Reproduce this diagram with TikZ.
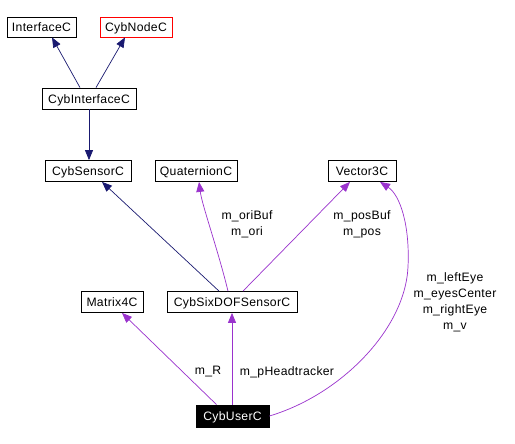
\documentclass[tikz,border=0pt]{standalone}
\usepackage{fontspec}
\setmainfont{Liberation Sans}[LetterSpace=2.5]
\usetikzlibrary{arrows.meta}
\definecolor{navyedge}{HTML}{191970}
\definecolor{purpedge}{HTML}{9A32CD}
\begin{document}
\begin{tikzpicture}[x=1pt,y=-1pt,
  cls/.style={draw=black,line width=0.8pt,rectangle,inner sep=0pt,minimum height=21pt,text height=11pt,text depth=2pt,font=\fontsize{12.2}{16}\selectfont,fill=white},
  inh/.style={draw=navyedge,line width=0.7pt,-{Triangle[length=10pt,width=8pt]},color=navyedge},
  use/.style={draw=purpedge,line width=0.7pt,-{Triangle[length=10pt,width=8pt]},color=purpedge},
  lbl/.style={font=\fontsize{12.2}{16}\selectfont,align=center,inner sep=0pt}]
\useasboundingbox (0,0) rectangle (515,444);
\fill[white] (0,0) rectangle (515,444);
\node[cls,minimum width=69pt,minimum height=20pt] (iface) at (41.5,27) {InterfaceC};
\node[cls,minimum width=72pt,minimum height=20pt,draw=red] (cybnode) at (136,27) {CybNodeC};
\node[cls,minimum width=94pt] (cybint) at (89,98.5) {CybInterfaceC};
\node[cls,minimum width=86pt] (sensor) at (88,171) {CybSensorC};
\node[cls,minimum width=82pt] (quat) at (196,171) {QuaternionC};
\node[cls,minimum width=68pt] (vec) at (362,171) {Vector3C};
\node[cls,minimum width=62pt] (matrix) at (112,302) {Matrix4C};
\node[cls,minimum width=130pt] (six) at (232,302) {CybSixDOFSensorC};
\node[cls,minimum width=73pt,minimum height=22pt,fill=black,text=white] (user) at (232.5,416) {CybUserC};

\draw[inh] ([xshift=-9pt]cybint.north) -- ([xshift=10.5pt]iface.south);
\draw[inh] ([xshift=7pt]cybint.north) -- ([xshift=-11pt]cybnode.south);
\draw[inh] (cybint.south) -- (cybint.south |- sensor.north);
\draw[inh] ([xshift=-13pt]six.north) -- ([xshift=14pt]sensor.south);

\draw[use] ([xshift=-4pt]six.north) .. controls (218,250) and (202,205) .. ([xshift=3pt]quat.south);
\draw[use] ([xshift=11pt]six.north) -- ([xshift=-12pt]vec.south);
\draw[use] (user.east) .. controls (340,395) and (405,330) .. (408,267)
  .. controls (410,225) and (400,195) .. ([xshift=18pt]vec.south);
\draw[use] ([xshift=-16pt]user.north) -- ([xshift=10pt]matrix.south);
\draw[use] (user.north -| six.south) -- (six.south);

\node[lbl] (l1) at (247,224) {m\_oriBuf\\m\_ori};
\node[lbl] (l2) at (362,224) {m\_posBuf\\m\_pos};
\node[lbl] (l3) at (455,302) {m\_leftEye\\m\_eyesCenter\\m\_rightEye\\m\_v};
\node[lbl] (l4) at (208,372) {m\_R};
\node[lbl] (l5) at (287,372) {m\_pHeadtracker};
\end{tikzpicture}
\end{document}
